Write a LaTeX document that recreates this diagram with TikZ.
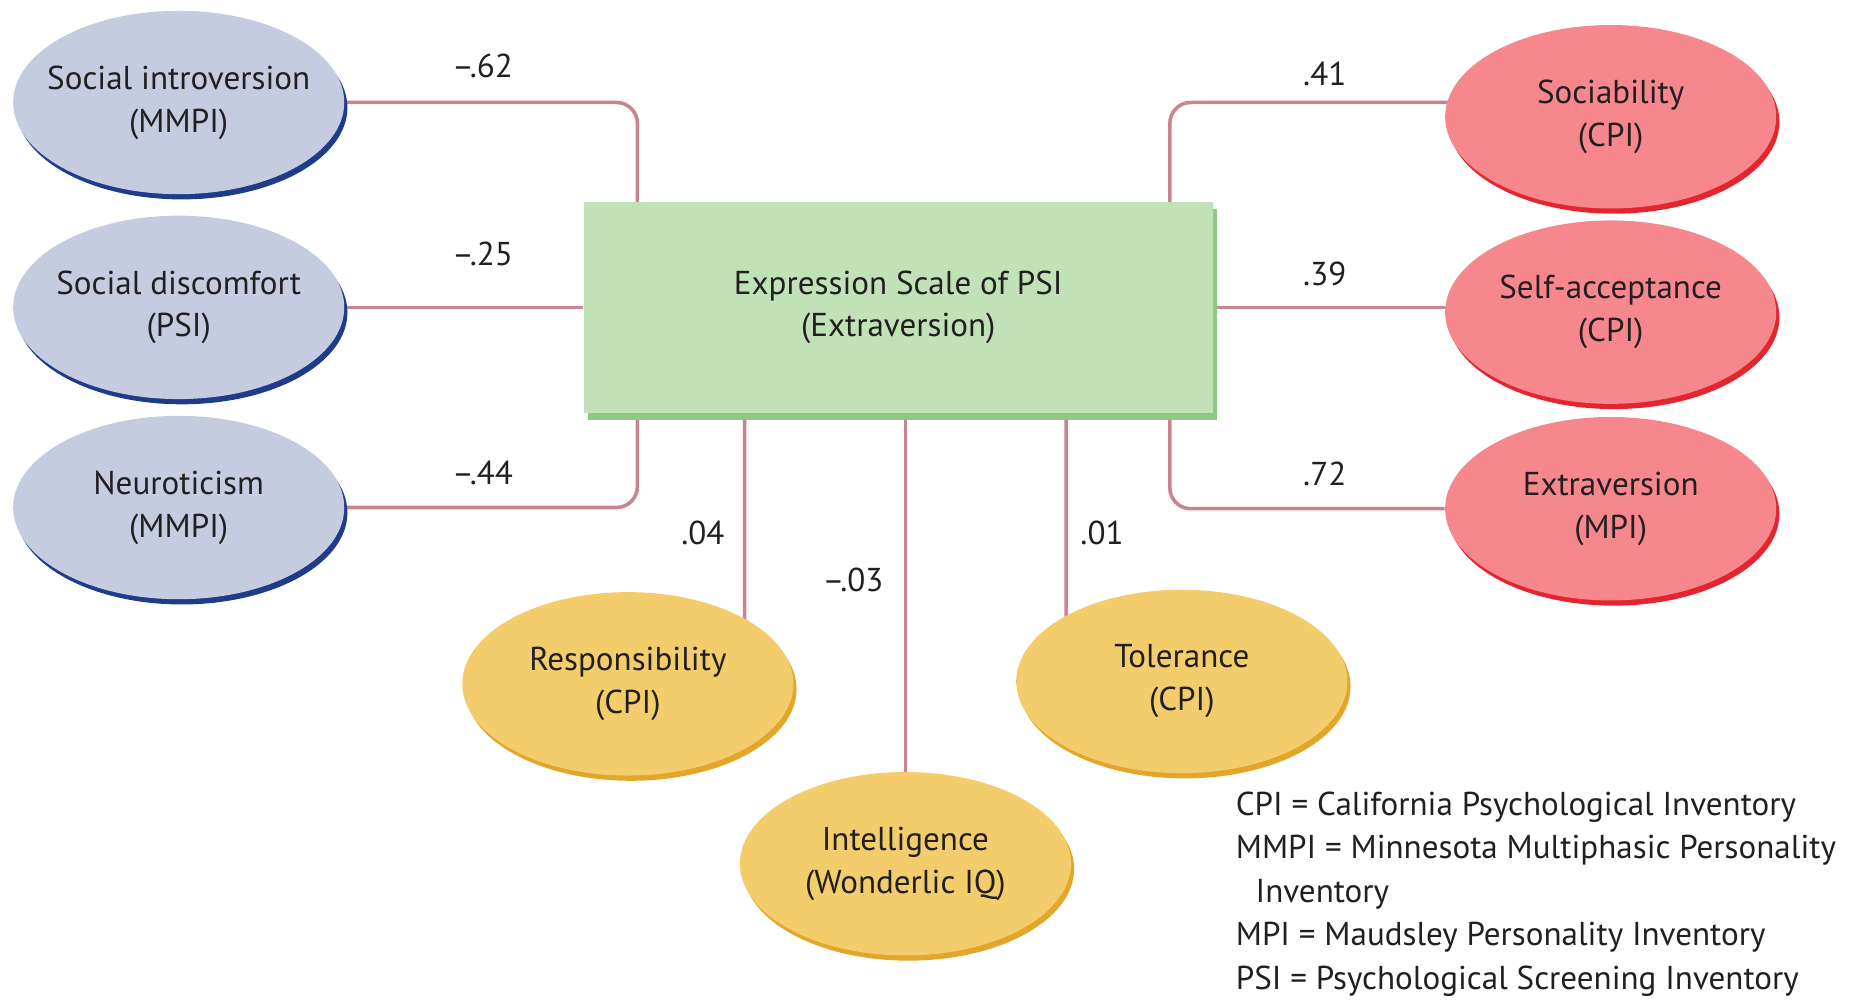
\documentclass[tikz,border=0pt]{standalone}
\usepackage{fontspec}
\setmainfont{PT Sans}
\usetikzlibrary{shapes.geometric,shadows,backgrounds}
\definecolor{coolfill}{HTML}{C5CCDF}
\definecolor{cooledge}{HTML}{1F3C8A}
\definecolor{warmfill}{HTML}{F6878D}
\definecolor{warmedge}{HTML}{E42530}
\definecolor{goldfill}{HTML}{F3CD6C}
\definecolor{goldedge}{HTML}{E2A62A}
\definecolor{boxfill}{HTML}{C1E2B7}
\definecolor{boxedge}{HTML}{8FC885}
\definecolor{linkcol}{HTML}{C9858F}
\definecolor{ink}{HTML}{231F20}
\tikzset{
  oval/.style={ellipse,minimum width=5.56cm,minimum height=3.08cm,align=center,
    inner xsep=-16pt,inner ysep=0pt},
  cool/.style={oval,fill=coolfill,drop shadow={shadow xshift=1.5pt,shadow yshift=-2.5pt,fill=cooledge,opacity=1}},
  warm/.style={oval,fill=warmfill,drop shadow={shadow xshift=1.5pt,shadow yshift=-2.5pt,fill=warmedge,opacity=1}},
  gold/.style={oval,fill=goldfill,drop shadow={shadow xshift=1.5pt,shadow yshift=-2.5pt,fill=goldedge,opacity=1}},
  link/.style={draw=linkcol,line width=1.7pt,rounded corners=10pt},
}
\begin{document}
\begin{tikzpicture}[x=0.02cm,y=-0.02cm,text=ink,
    every node/.append style={font=\fontsize{15.8}{20.5}\selectfont}]
	\useasboundingbox (0,0) rectangle (1568,839);
	\node (c) [rectangle,minimum width=10.56cm,minimum height=3.54cm,align=center,fill=boxfill,
	  drop shadow={shadow xshift=2pt,shadow yshift=-3.5pt,fill=boxedge,opacity=1}] at (754,258)
	  {Expression Scale of PSI\\(Extraversion)};
	\node (l0) [cool] at (150,86) {Social introversion\\(MMPI)};
	\node (l1) [cool] at (150,258) {Social discomfort\\(PSI)};
	\node (l2) [cool] at (150,426) {Neuroticism\\(MMPI)};
	\node (r0) [warm] at (1352,98) {Sociability\\(CPI)};
	\node (r1) [warm] at (1352,262) {Self-acceptance\\(CPI)};
	\node (r2) [warm] at (1352,427) {Extraversion\\(MPI)};
	\node (b0) [gold] at (527,574) {Responsibility\\(CPI)};
	\node (b1) [gold] at (760,725) {Intelligence\\(Wonderlic IQ)};
	\node (b2) [gold] at (992,572) {Tolerance\\(CPI)};
	\node (v0) at (405,55) {–.62};
	\node (v1) at (405,213) {–.25};
	\node (v2) at (405,397) {–.44};
	\node (v3) at (1112,62) {.41};
	\node (v4) at (1112,230) {.39};
	\node (v5) at (1112,398) {.72};
	\node (v6) at (590,447) {.04};
	\node (v7) at (716,487) {–.03};
	\node (v8) at (925,447) {.01};
	\node (key) [anchor=north west,align=left,inner sep=0pt,
	  font=\fontsize{15.8}{20.8}\selectfont] at (1037,664)
	  {CPI = California Psychological Inventory\\
	   MMPI = Minnesota Multiphasic Personality\\
	   \hspace*{0.6em}Inventory\\
	   MPI = Maudsley Personality Inventory\\
	   PSI = Psychological Screening Inventory};
	\begin{scope}[on background layer]
		\draw[link] ([xshift=-4.38cm]c.center) |- (l0);
		\draw[link] (l1) -- (c);
		\draw[link] ([xshift=-4.38cm]c.center) |- (l2);
		\draw[link] ([xshift=4.56cm]c.center) |- ([yshift=0.24cm]r0.center);
		\draw[link] (c) -- (c -| r1);
		\draw[link] ([xshift=4.56cm]c.center) |- (r2);
		\draw[link] ([xshift=-2.58cm]c.center) |- (b0);
		\draw[link] (b1 |- c) -- (b1);
		\draw[link] ([xshift=2.82cm]c.center) |- (b2);
	\end{scope}
\end{tikzpicture}
\end{document}
